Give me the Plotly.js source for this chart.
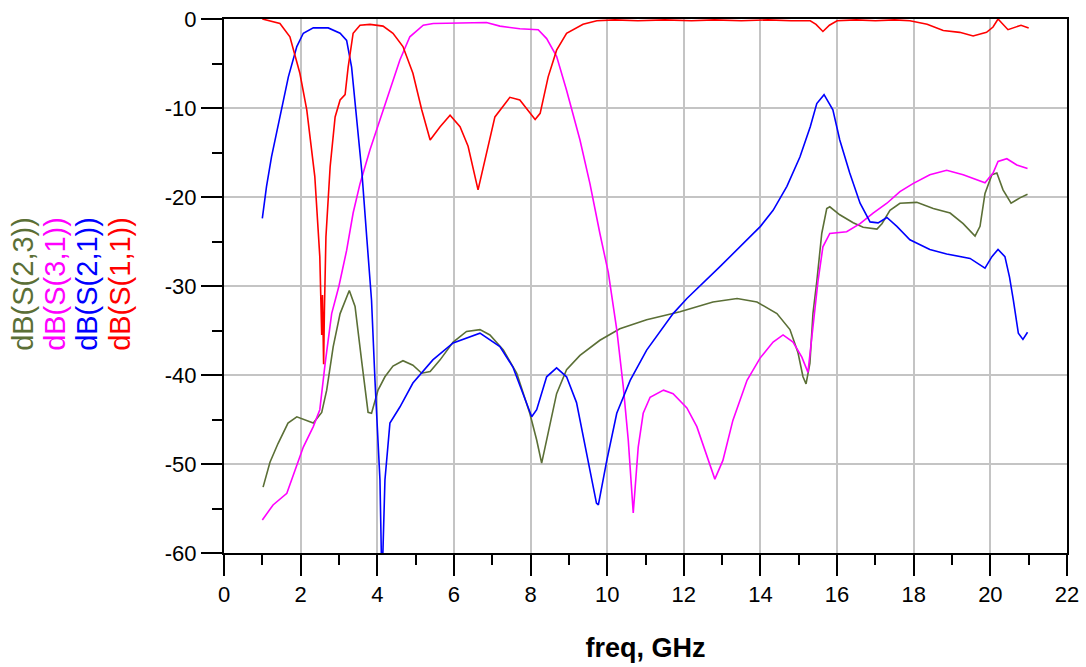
<!DOCTYPE html>
<html>
<head>
<meta charset="utf-8">
<script src="https://cdn.plot.ly/plotly-3.0.1.min.js"></script>
<style>html,body{margin:0;padding:0;background:#fff;}#chart{width:1086px;height:667px;}</style>
</head>
<body>
<div id="chart"></div>
<script>
// ---- data ----
var s11Freq = [1.0,1.46,1.72,1.98,2.16,2.37,2.5,2.53,2.55,2.57,2.6,2.62,2.64,2.66,2.77,2.9,3.03,3.16,3.24,3.37,3.55,3.81,4.15,4.41,4.67,4.93,5.16,5.38,5.64,5.9,6.16,6.37,6.63,6.86,7.07,7.46,7.72,8.12,8.25,8.46,8.68,8.94,9.37,9.73,10.2,10.8,11.5,12.2,12.8,13.5,14.2,14.8,15.3,15.45,15.63,15.8,16.0,16.5,17.0,17.5,17.9,18.35,18.77,19.2,19.55,19.9,20.07,20.2,20.46,20.8,21.0];
var s11dB   = [0,-0.5,-2,-6.1,-10.2,-17.7,-26.7,-33,-35.5,-31,-38.8,-32.9,-28,-24.5,-16.6,-11,-9.1,-8.5,-5.4,-1.6,-0.7,-0.6,-0.8,-1.6,-3.1,-6.1,-10.2,-13.6,-12.1,-10.8,-12.1,-14.3,-19.2,-15.1,-11,-8.8,-9.1,-11.3,-10.6,-6.5,-3.5,-1.6,-0.6,-0.2,-0.1,-0.2,-0.1,-0.2,-0.1,-0.2,-0.1,-0.2,-0.2,-0.6,-1.4,-0.7,-0.2,-0.1,-0.2,-0.1,-0.2,-0.6,-1.3,-1.5,-1.9,-1.5,-0.9,0,-1.2,-0.7,-1.0];

var s21Freq = [1.0,1.11,1.24,1.46,1.68,1.9,2.07,2.33,2.72,3.03,3.2,3.33,3.46,3.6,3.73,3.85,3.94,4.07,4.11,4.14,4.2,4.33,4.59,4.93,5.45,5.98,6.68,7.2,7.54,7.85,8.03,8.16,8.42,8.68,8.94,9.2,9.46,9.72,9.77,9.99,10.25,10.6,11.03,11.72,12.08,12.6,12.95,14.0,14.33,14.69,15.03,15.3,15.47,15.66,15.89,16.07,16.33,16.6,16.86,17.07,17.3,17.56,17.9,18.42,18.86,19.47,19.86,20.04,20.2,20.38,20.5,20.6,20.73,20.85,20.97];
var s21dB   = [-22.4,-18.8,-15.5,-11,-6.5,-3.1,-1.6,-1.0,-1.0,-1.6,-2.4,-5.4,-11,-17.3,-24.8,-31.6,-40.6,-51.8,-61,-61,-51.8,-45.4,-43.6,-40.9,-38.3,-36.4,-35.3,-36.8,-39.1,-42.5,-44.7,-43.9,-40.2,-39.2,-40.2,-43.1,-48.8,-54.4,-54.6,-49.6,-44.3,-40.6,-37.2,-33.1,-31.4,-29.3,-27.8,-23.3,-21.5,-18.8,-15.5,-12.1,-9.5,-8.5,-10.2,-13.6,-17.3,-20.7,-22.8,-22.9,-22.3,-23.3,-24.8,-25.9,-26.4,-26.9,-28.0,-26.7,-25.9,-26.7,-29,-31.6,-35.3,-36,-35.2];

var s31Freq = [1.0,1.28,1.64,1.9,2.07,2.33,2.5,2.64,2.81,3.0,3.2,3.37,3.55,3.81,4.07,4.33,4.59,4.85,5.2,5.46,6.33,6.85,7.2,7.72,8.2,8.42,8.68,8.94,9.29,9.55,9.81,10.03,10.25,10.42,10.55,10.68,10.81,10.94,11.12,11.47,11.72,12.08,12.34,12.6,12.81,13.02,13.28,13.65,13.99,14.33,14.59,14.85,15.08,15.24,15.37,15.5,15.63,15.81,16.25,16.6,16.94,17.3,17.64,17.98,18.42,18.86,19.29,19.86,20.07,20.2,20.43,20.69,20.97];
var s31dB   = [-56.3,-54.6,-53.3,-50.3,-48.1,-45.8,-43.9,-38.7,-33.1,-30,-26,-21.8,-18.5,-14.7,-11.3,-8.0,-4.6,-2,-0.7,-0.5,-0.4,-0.4,-0.8,-1.1,-1.2,-2.2,-4.2,-8.0,-13.6,-18.5,-24.1,-28.5,-34.9,-41.3,-47.3,-55.5,-48.1,-44.3,-42.5,-41.7,-42.1,-43.7,-45.8,-49.2,-51.7,-49.6,-45.1,-40.6,-38.1,-36.3,-35.5,-36.3,-38,-39.7,-34.9,-29.5,-25.6,-24.1,-23.9,-23,-21.8,-20.7,-19.4,-18.5,-17.5,-17.0,-17.5,-18.4,-17.3,-16.0,-15.7,-16.4,-16.8];

var s23Freq = [1.02,1.2,1.41,1.67,1.9,2.33,2.55,2.68,2.85,3.03,3.27,3.42,3.6,3.76,3.85,4.02,4.2,4.41,4.67,4.93,5.16,5.38,5.64,5.98,6.33,6.68,6.94,7.29,7.64,7.98,8.16,8.29,8.46,8.68,8.94,9.29,9.81,10.33,11.03,11.9,12.76,13.39,13.91,14.43,14.77,14.98,15.11,15.19,15.29,15.37,15.47,15.6,15.73,15.81,16.07,16.42,16.68,17.04,17.17,17.38,17.64,18.08,18.51,18.95,19.29,19.6,19.73,19.86,20.04,20.17,20.33,20.54,20.77,20.97];
var s23dB   = [-52.6,-49.8,-47.7,-45.4,-44.7,-45.4,-44.2,-41.7,-36.8,-33.1,-30.5,-32.3,-38.7,-44.2,-44.3,-41.7,-40.2,-39,-38.4,-38.9,-39.8,-39.6,-38.3,-36.3,-35.1,-34.9,-35.5,-37.2,-39.8,-44.3,-47.3,-49.9,-46.5,-42.1,-39.4,-37.8,-36.1,-34.8,-33.8,-32.9,-31.8,-31.4,-31.8,-33.1,-34.9,-37.5,-40.2,-41,-38.7,-33.1,-29.5,-24.1,-21.3,-21.1,-22,-22.9,-23.4,-23.6,-23,-21.5,-20.7,-20.6,-21.3,-21.8,-23,-24.4,-23.3,-19.6,-17.5,-17.3,-19.2,-20.7,-20.1,-19.7];

var seriesNames = ['dB(S(2,3))','dB(S(3,1))','dB(S(2,1))','dB(S(1,1))'];
var xTickVals = [0,2,4,6,8,10,12,14,16,18,20,22];
var xTickText = ['0','2','4','6','8','10','12','14','16','18','20','22'];
var yTickVals = [0,-10,-20,-30,-40,-50,-60];
var yTickText = ['0','-10','-20','-30','-40','-50','-60'];
var xTitle = 'freq, GHz';

// ---- styles ----
var colors = ['#5b6f36','#ff00ff','#0000ff','#ff0000'];
var font = 'Arial, "Liberation Sans", sans-serif';
var xs = [s23Freq, s31Freq, s21Freq, s11Freq];
var ys = [s23dB, s31dB, s21dB, s11dB];

var traces = xs.map(function(x, i){
  return {x:x, y:ys[i], type:'scatter', mode:'lines', name:seriesNames[i],
          line:{color:colors[i], width:1.6}, hoverinfo:'skip'};
});

var titleX = [23, 55, 87, 120];
var annotations = seriesNames.map(function(n, i){
  return {text:n, xref:'paper', yref:'paper', x:0, y:0.504, xanchor:'center', yanchor:'middle',
          xshift:titleX[i]-224, textangle:-90, showarrow:false,
          font:{family:font, size:29, color:colors[i]}};
});

var axisCommon = {
  showline:true, linecolor:'#000', linewidth:2, mirror:true,
  ticks:'outside', ticklen:21, tickwidth:2, tickcolor:'#000',
  showgrid:true, gridcolor:'#c4c4c4', gridwidth:2, zeroline:false,
  tickfont:{family:font, size:22, color:'#000'}, tickmode:'array'
};

var layout = {
  width:1086, height:667,
  margin:{l:224, r:19, t:19, b:114},
  paper_bgcolor:'#fff', plot_bgcolor:'#fff',
  showlegend:false,
  xaxis:Object.assign({}, axisCommon, {
    range:[0,22], tickvals:xTickVals, ticktext:xTickText,
    minor:{tick0:0, dtick:1, ticks:'outside', ticklen:10, tickwidth:2, tickcolor:'#000', showgrid:false},
    title:{text:xTitle, font:{family:font, size:27, color:'#000', weight:'bold'}, standoff:32}
  }),
  yaxis:Object.assign({}, axisCommon, {
    range:[-60,0], tickvals:yTickVals, ticktext:yTickText,
    minor:{tick0:0, dtick:5, ticks:'outside', ticklen:10, tickwidth:2, tickcolor:'#000', showgrid:false}
  }),
  annotations:annotations
};

Plotly.newPlot('chart', traces, layout, {staticPlot:true, displayModeBar:false});
</script>
</body>
</html>
